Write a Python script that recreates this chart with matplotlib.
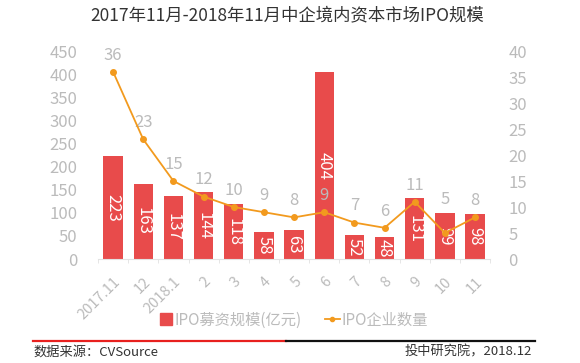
import matplotlib.pyplot as plt
from matplotlib.lines import Line2D
import numpy as np

plt.rcParams['font.family'] = ['Noto Sans CJK SC', 'DejaVu Sans']
plt.rcParams['font.weight'] = 'light'

# data
months = ['2017.11', '12', '2018.1', '2', '3', '4', '5', '6', '7', '8', '9', '10', '11']
ipo_amount = [223, 163, 137, 144, 118, 58, 63, 404, 52, 48, 131, 99, 98]
ipo_count = [36, 23, 15, 12, 10, 9, 8, 9, 7, 6, 11, 5, 8]

BAR_RED = '#E84B4B'
ORANGE = '#F29A1E'
GRAY = '#BBBBBB'

fig = plt.figure(figsize=(5.8, 3.63), dpi=100)
ax = fig.add_axes([0.169, 0.2865, 0.676, 0.573])
ax2 = ax.twinx()

x = np.arange(len(months))

# Bars with rotated value labels
bars = ax.bar(x, ipo_amount, width=0.64, color=BAR_RED, zorder=2)
for xi, v in zip(x, ipo_amount):
    ax.text(xi, v / 2, str(v), rotation=270, ha='center', va='center',
            color='white', fontsize=12, zorder=3)

ax.set_xlim(-0.5, len(months) - 0.5)
ax.set_ylim(0, 450)
ax.set_yticks(range(0, 451, 50))
ax2.set_ylim(0, 40)
ax2.set_yticks(range(0, 41, 5))

# Line with labels
ax2.plot(x, ipo_count, color=ORANGE, linewidth=1.3, marker='o', markersize=4, zorder=4)
for i, (xi, v) in enumerate(zip(x, ipo_count)):
    off = 24 if i == 11 else 12
    ax2.annotate(str(v), (xi, v), xytext=(0, off), textcoords='offset points',
                 ha='center', va='center', color=GRAY, fontsize=12)

# Axes styling
for a in (ax, ax2):
    for s in ('top', 'left', 'right'):
        a.spines[s].set_visible(False)
    a.tick_params(axis='y', length=0, colors=GRAY, labelsize=12)
ax.spines['bottom'].set_color('#E2E2E2')
ax2.spines['bottom'].set_visible(False)
ax.tick_params(axis='y', pad=15)
ax2.tick_params(axis='y', pad=13)

ax.set_xticks(x)
ax.set_xticklabels(months, rotation=45, ha='right', va='top',
                   rotation_mode='anchor', color=GRAY, fontsize=10.5)
ax.tick_params(axis='x', length=0, pad=11)
ax.set_xticks(np.arange(-0.5, len(months)), minor=True)
ax.tick_params(axis='x', which='minor', length=3, color='#E2E2E2')

# Title
fig.text(0.495, 0.958, '2017年11月-2018年11月中企境内资本市场IPO规模',
         ha='center', va='center', fontsize=12.5, color='#333333', fontweight='normal')

# Legend
handles = [
    Line2D([], [], color=BAR_RED, marker='s', linestyle='none', markersize=9),
    Line2D([], [], color=ORANGE, marker='o', markersize=3, linewidth=1.3),
]
fig.legend(handles, ['IPO募资规模(亿元)', 'IPO企业数量'], loc='center',
           bbox_to_anchor=(0.505, 0.118), ncol=2, frameon=False, fontsize=11,
           labelcolor=GRAY, handlelength=1.0, handletextpad=0.1, columnspacing=1.5)

# Footer rule and source
fig.add_artist(Line2D([33 / 580, 286 / 580], [0.061, 0.061], color='#E8201E', linewidth=1.6))
fig.add_artist(Line2D([286 / 580, 535 / 580], [0.061, 0.061], color='#111111', linewidth=1.6))
fig.text(33 / 580, 0.03, '数据来源：CVSource', ha='left', va='center',
         fontsize=9.5, color='#333333', fontweight='normal')
fig.text(532 / 580, 0.03, '投中研究院，2018.12', ha='right', va='center',
         fontsize=9.5, color='#333333', fontweight='normal')

plt.savefig('out.png', dpi=100)
plt.close()
